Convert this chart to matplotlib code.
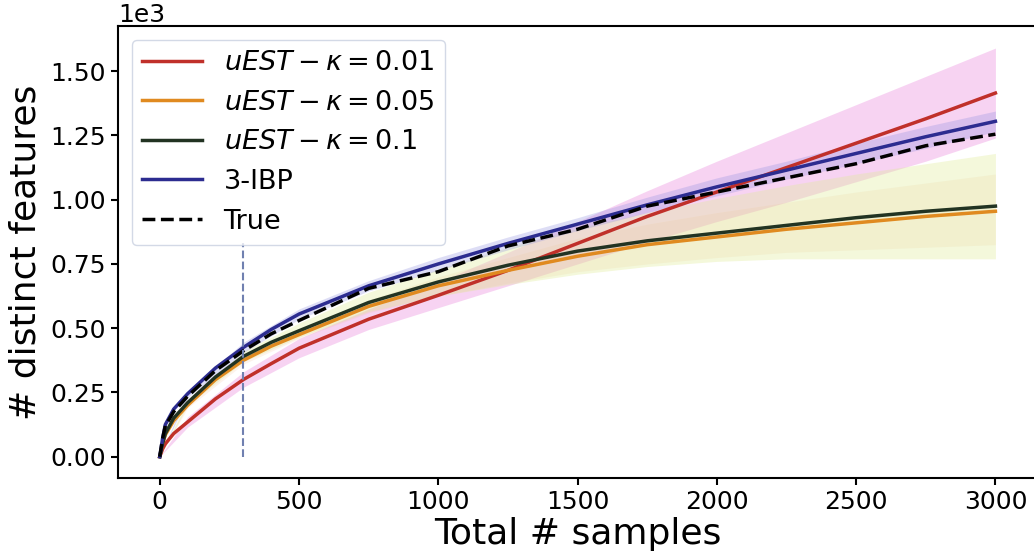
import matplotlib
matplotlib.use("Agg")
import matplotlib.pyplot as plt

# sample grid for the curves
xs = [0, 10, 20, 50, 100, 200, 300, 400, 500, 750, 1000, 1250, 1500,
      1750, 2000, 2250, 2500, 2750, 3000]

uest_001 = [0, 30, 50, 90, 135, 225, 300, 362, 422, 535, 628, 725, 830,
            935, 1030, 1125, 1220, 1315, 1415]
uest_005 = [0, 50, 85, 140, 200, 300, 375, 430, 475, 585, 665, 725, 780,
            825, 855, 885, 910, 935, 955]
uest_01 = [0, 50, 90, 150, 210, 310, 390, 445, 490, 600, 680, 745, 800,
           840, 870, 900, 930, 955, 975]
ibp = [0, 70, 125, 185, 245, 345, 425, 495, 555, 665, 750, 830, 905,
       980, 1050, 1115, 1180, 1245, 1305]
true_vals = [0, 70, 120, 175, 235, 335, 412, 478, 530, 655, 720, 820, 885,
             975, 1030, 1085, 1140, 1210, 1255]

# confidence bands
band_x = [0, 100, 300, 500, 750, 1000, 1250, 1500, 1750, 2000, 2250, 2500, 2750, 3000]
r_lo = [0, 115, 270, 385, 495, 580, 665, 750, 835, 915, 990, 1070, 1150, 1240]
r_hi = [0, 155, 330, 460, 575, 680, 795, 915, 1035, 1150, 1260, 1370, 1480, 1590]
o_lo = [0, 190, 360, 460, 560, 625, 675, 720, 750, 775, 795, 805, 815, 825]
o_hi = [0, 210, 390, 495, 610, 700, 775, 850, 905, 950, 990, 1030, 1065, 1100]
g_lo = [0, 200, 370, 465, 565, 625, 670, 710, 740, 760, 770, 770, 770, 770]
g_hi = [0, 220, 410, 520, 640, 730, 815, 890, 950, 1005, 1055, 1100, 1140, 1180]
b_lo = [0, 230, 405, 535, 645, 725, 805, 880, 950, 1015, 1080, 1140, 1200, 1265]
b_hi = [0, 255, 445, 575, 685, 775, 855, 930, 1010, 1085, 1150, 1220, 1285, 1345]

fig = plt.figure(figsize=(10.34, 5.55), dpi=100)
ax = fig.add_axes([0.1141, 0.1387, 0.889, 0.8145])

ax.fill_between(band_x, r_lo, r_hi, color="#e878d8", alpha=0.32, lw=0)
ax.fill_between(band_x, o_lo, o_hi, color="#f0b080", alpha=0.15, lw=0)
ax.fill_between(band_x, g_lo, g_hi, color="#e0ec98", alpha=0.35, lw=0)
ax.fill_between(band_x, b_lo, b_hi, color="#9090e0", alpha=0.3, lw=0)

ax.plot(xs, uest_001, color="#c0302a", lw=2.5, label=r"$uEST - \kappa = 0.01$")
ax.plot(xs, uest_005, color="#e08a20", lw=2.5, label=r"$uEST - \kappa = 0.05$")
ax.plot(xs, uest_01, color="#223322", lw=2.5, label=r"$uEST - \kappa = 0.1$")
ax.plot(xs, ibp, color="#2c2c90", lw=2.5, label="3-IBP")
ax.plot(xs, true_vals, color="black", lw=2.5, ls="--", label="True")

ax.vlines(300, 0, 830, color="#7080b0", lw=1.5, linestyles="--")

ax.set_xlim(-150, 3150)
ax.set_ylim(-83, 1676)
ax.set_xticks([0, 500, 1000, 1500, 2000, 2500, 3000])
ax.set_yticks([0, 250, 500, 750, 1000, 1250, 1500])
ax.ticklabel_format(style="sci", axis="y", scilimits=(0, 0))
ax.tick_params(labelsize=18, width=1.5, length=5)
ax.yaxis.get_offset_text().set_fontsize(18)
for s in ax.spines.values():
    s.set_linewidth(1.5)

ax.set_xlabel("Total # samples", fontsize=26, labelpad=2)
ax.set_ylabel("# distinct features", fontsize=26, labelpad=6)

leg = ax.legend(loc="upper left", fontsize=19.5, framealpha=0.8,
                edgecolor="#c8d0e0", handlelength=2.2)

fig.savefig("out.png", dpi=100)
